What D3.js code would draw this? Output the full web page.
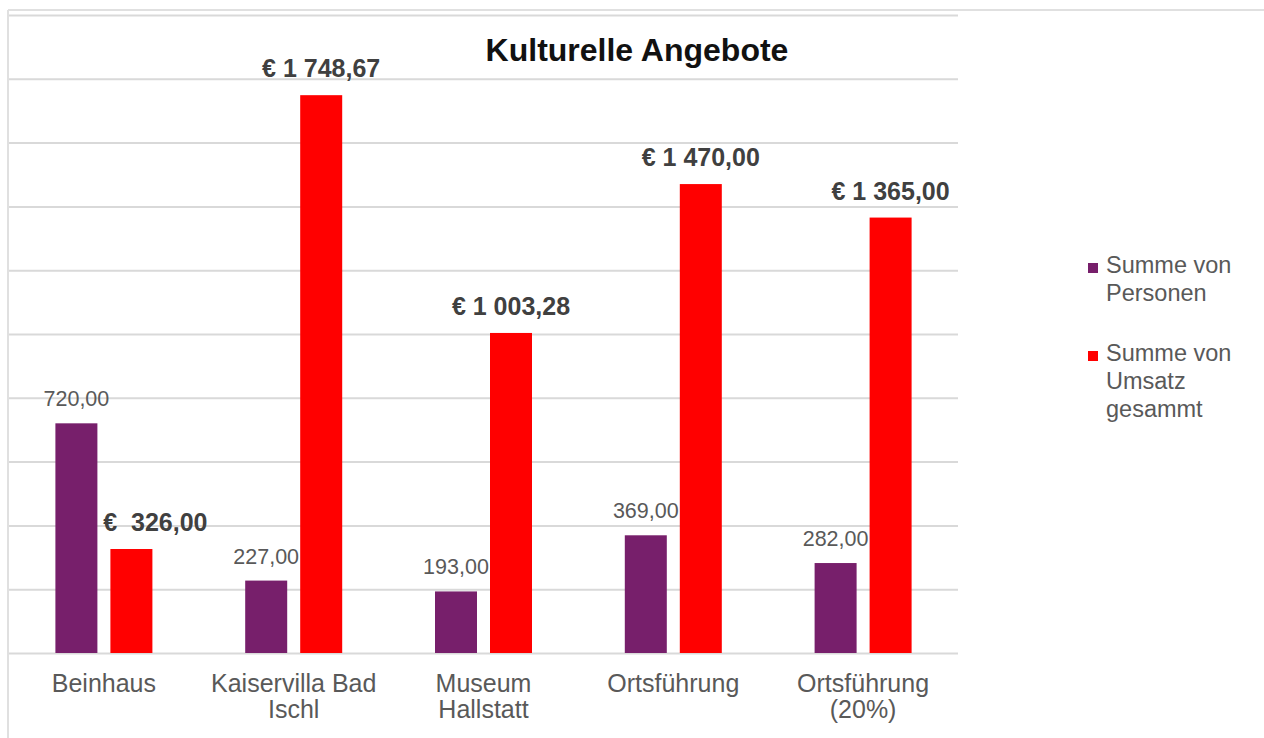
<!DOCTYPE html>
<html>
<head>
<meta charset="utf-8">
<script src="https://cdn.jsdelivr.net/npm/d3@7"></script>
<style>
  html, body { margin: 0; padding: 0; background: #fff; }
  svg { display: block; font-family: "Liberation Sans", Arial, sans-serif; }
</style>
</head>
<body>
<svg id="chart" width="1264" height="738"></svg>
<script>
// Categories (line breaks mark the wrapped axis labels)
const categories = ["Beinhaus", "Kaiservilla Bad\nIschl", "Museum\nHallstatt", "Ortsführung", "Ortsführung\n(20%)"];
const personen = [720, 227, 193, 369, 282];
const umsatz = [326.00, 1748.67, 1003.28, 1470.00, 1365.00];
const seriesNames = [["Summe von", "Personen"], ["Summe von", "Umsatz", "gesammt"]];
const yTicks = [0, 200, 400, 600, 800, 1000, 1200, 1400, 1600, 1800, 2000];
const chartTitle = "Kulturelle Angebote";

const colors = ["#771f6b", "#ff0000"];
const textGray = "#595959";
const gridGray = "#d9d9d9";

const svg = d3.select("#chart");

// Outer frame (top and left edges)
svg.append("line").attr("x1", 8).attr("x2", 1264).attr("y1", 10).attr("y2", 10)
  .attr("stroke", "#e0e0e0").attr("stroke-width", 2);
svg.append("line").attr("x1", 8).attr("x2", 8).attr("y1", 10).attr("y2", 738)
  .attr("stroke", "#e0e0e0").attr("stroke-width", 2);

const plot = { left: 9, right: 958, top: 15, bottom: 653 };

const x = d3.scaleBand().domain(d3.range(categories.length))
  .range([plot.left, plot.right]).paddingInner(0).paddingOuter(0);
const y = d3.scaleLinear().domain([0, 2000]).range([plot.bottom, plot.top]);

// Horizontal gridlines
const yAxis = d3.axisLeft(y).tickValues(yTicks).tickSize(-(plot.right - plot.left)).tickFormat("");
const gy = svg.append("g").attr("transform", `translate(${plot.left},0)`).call(yAxis);
gy.select(".domain").remove();
gy.selectAll(".tick line").attr("stroke", gridGray).attr("stroke-width", 2);

// Bars: two series per category
const barW = 42, gap = 13;
const groupW = barW * 2 + gap;
const series = [personen, umsatz];
series.forEach((vals, s) => {
  svg.append("g").selectAll("rect").data(vals).join("rect")
    .attr("x", (d, i) => x(i) + x.bandwidth() / 2 - groupW / 2 + s * (barW + gap))
    .attr("width", barW)
    .attr("y", d => y(d))
    .attr("height", d => y(0) - y(d))
    .attr("fill", colors[s]);
});

const deNum = d3.formatLocale({ decimal: ",", thousands: "\u00a0", grouping: [3], currency: ["", ""] }).format(",.2f");

// Personen value labels
svg.append("g").selectAll("text").data(personen).join("text")
  .attr("x", (d, i) => x(i) + x.bandwidth() / 2 - groupW / 2 + barW / 2)
  .attr("y", d => y(d) - 17)
  .attr("text-anchor", "middle")
  .attr("font-size", 21.5)
  .attr("fill", textGray)
  .text(d => deNum(d));

// Umsatz value labels (accounting style)
svg.append("g").selectAll("text").data(umsatz).join("text")
  .attr("x", (d, i) => x(i) + x.bandwidth() / 2 - groupW / 2 + barW + gap + barW / 2 + (d < 1000 ? 24 : 0))
  .attr("y", d => y(d) - 18)
  .attr("text-anchor", "middle")
  .attr("font-size", 25)
  .attr("font-weight", "bold")
  .attr("fill", "#404040")
  .attr("xml:space", "preserve")
  .style("white-space", "pre")
  .text(d => d < 1000 ? "€  " + deNum(d) : "€ " + deNum(d));

// Category labels
const cat = svg.append("g").selectAll("text").data(categories).join("text")
  .attr("x", (d, i) => x(i) + x.bandwidth() / 2)
  .attr("y", 692)
  .attr("text-anchor", "middle")
  .attr("font-size", 25)
  .attr("fill", textGray);
cat.each(function(d) {
  const t = d3.select(this);
  d.split("\n").forEach((line, k) => {
    t.append("tspan").attr("x", t.attr("x")).attr("dy", k === 0 ? 0 : 26).text(line);
  });
});

// Title
svg.append("text").attr("x", 637).attr("y", 61).attr("text-anchor", "middle")
  .attr("font-size", 32).attr("font-weight", "bold").attr("fill", "#111")
  .text(chartTitle);

// Legend
const legendY = [273, 361];
seriesNames.forEach((lines, s) => {
  const g = svg.append("g");
  g.append("rect").attr("x", 1088).attr("y", legendY[s] - 10).attr("width", 10).attr("height", 10)
    .attr("fill", colors[s]);
  const t = g.append("text").attr("x", 1106).attr("y", legendY[s])
    .attr("font-size", 23.5).attr("fill", textGray);
  lines.forEach((line, k) => {
    t.append("tspan").attr("x", 1106).attr("dy", k === 0 ? 0 : 28).text(line);
  });
});
</script>
</body>
</html>
